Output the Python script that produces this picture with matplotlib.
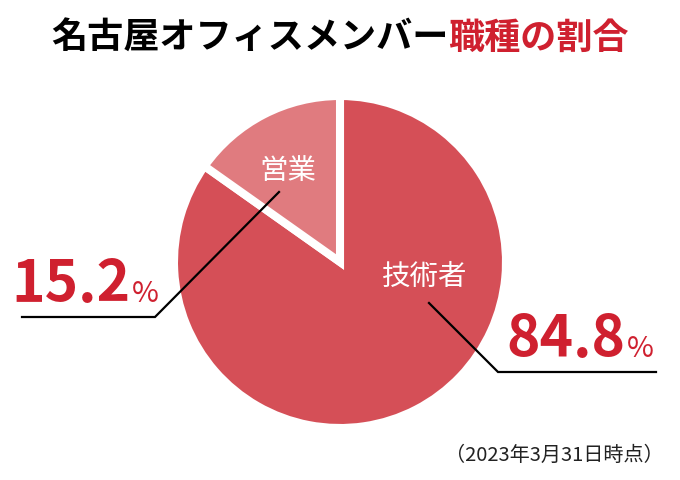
import matplotlib
matplotlib.use("Agg")
import matplotlib.pyplot as plt

plt.rcParams['font.family'] = ['Noto Sans CJK JP', 'DejaVu Sans']

# data
labels = ["技術者", "営業"]
values = [84.8, 15.2]
colors = ["#d54f57", "#e07b7f"]
title_black = "名古屋オフィスメンバー"
title_red = "職種の割合"
note = "（2023年3月31日時点）"

RED = "#cf202f"
W, H = 680, 480

fig = plt.figure(figsize=(6.8, 4.8), dpi=100)
ax = fig.add_axes([0, 0, 1, 1])


def py(y):
    # pixel row from top -> data y
    return H - y


ax.pie(values, colors=colors, startangle=90, counterclock=False,
       center=(340, py(262)), radius=166,
       wedgeprops=dict(edgecolor="white", linewidth=5.8, joinstyle="miter"))

ax.set_xlim(0, W)
ax.set_ylim(0, H)
ax.set_aspect("equal")
ax.axis("off")

# slice labels
ax.text(425, py(277), labels[0], color="white", fontsize=20.5,
        ha="center", va="center")
ax.text(288, py(171), labels[1], color="white", fontsize=20.5,
        ha="center", va="center")

# leader lines
ax.plot([429, 498, 656], [py(303), py(372), py(372)], color="black", lw=1.6,
        solid_joinstyle="miter")
ax.plot([279, 155, 22], [py(192), py(317), py(317)], color="black", lw=1.6,
        solid_joinstyle="miter")

# percentages
ax.text(625, py(357), f"{values[0]:.1f}", color=RED, fontsize=41,
        fontweight="bold", ha="right", va="baseline")
ax.text(627, py(357), "%", color=RED, fontsize=21, ha="left", va="baseline")
ax.text(130, py(302), f"{values[1]:.1f}", color=RED, fontsize=41,
        fontweight="bold", ha="right", va="baseline")
ax.text(132, py(302), "%", color=RED, fontsize=21, ha="left", va="baseline")

# title in two colours
t1 = ax.text(51, py(38), title_black, color="black", fontsize=26,
             fontweight="bold", ha="left", va="center")
fig.canvas.draw()
bb = t1.get_window_extent()
x_end = ax.transData.inverted().transform((bb.x1, bb.y0))[0]
ax.text(x_end, py(38), title_red, color=RED, fontsize=26,
        fontweight="bold", ha="left", va="center")

ax.text(664, py(455), note, color="#222222", fontsize=14.5,
        ha="right", va="center")

fig.savefig("out.png", dpi=100)
